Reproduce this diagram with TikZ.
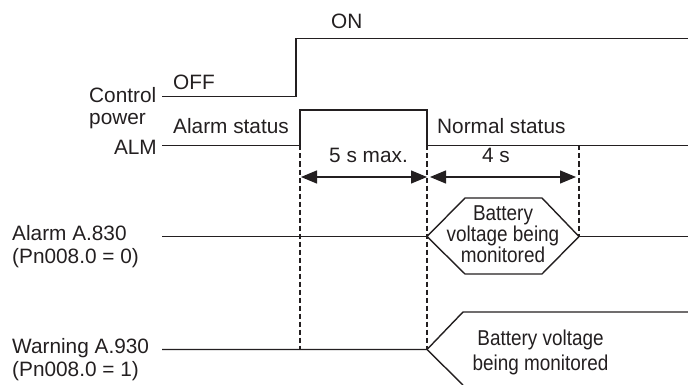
\documentclass[tikz,border=0pt]{standalone}
\usepackage{fontspec}
\setmainfont{Liberation Sans}
\newfontfamily\condfont{Liberation Sans}[FakeStretch=0.88]
\usetikzlibrary{arrows.meta}
\definecolor{ink}{HTML}{231F20}
\tikzset{
  wave/.style={draw=ink, line width=1.4pt, line join=miter},
  guide/.style={draw=ink, line width=1.1pt, dash pattern=on 5pt off 3pt},
  span/.style={draw=ink, line width=1.4pt, {Triangle[length=16pt,width=13pt]}-{Triangle[length=16pt,width=13pt]}},
  lbl/.style={inner sep=0pt, text=ink, font=\fontsize{20.8}{22.6}\selectfont},
  hexlbl/.style={inner sep=0pt, text=ink, align=center, font=\condfont\fontsize{21.5}{21}\selectfont},
  wlbl/.style={inner sep=0pt, text=ink, align=center, font=\condfont\fontsize{21.5}{24.3}\selectfont}
}
\begin{document}
\begin{tikzpicture}[x=1pt,y=-1pt]
\useasboundingbox (0,0) rectangle (688,385);
% coordinates
\coordinate (cp0) at (162,96.7);
\coordinate (cp1) at (296,96.7);
\coordinate (cp2) at (296,38.7);
\coordinate (cp3) at (688,38.7);
\coordinate (al0) at (162,145.5);
\coordinate (al1) at (300,145.5);
\coordinate (al2) at (300,110);
\coordinate (al3) at (427,110);
\coordinate (al4) at (427,145.5);
\coordinate (al5) at (688,145.5);
\coordinate (d1b) at (300,349.5);
\coordinate (d2b) at (427,349.5);
\coordinate (d3t) at (579,145.5);
\coordinate (d3b) at (579,236.5);
\coordinate (a0) at (162,236.5);
\coordinate (hL) at (427,236.5);
\coordinate (hTL) at (465,198);
\coordinate (hTR) at (542,198);
\coordinate (hR) at (579,236.5);
\coordinate (hBR) at (542,274);
\coordinate (hBL) at (465,274);
\coordinate (a1) at (688,236.5);
\coordinate (w0) at (162,349.5);
\coordinate (wP) at (427,349.5);
\coordinate (wU) at (463,312);
\coordinate (wU2) at (688,312);
\coordinate (wD) at (463,385);
\coordinate (s1L) at (301,177);
\coordinate (s1R) at (427,177);
\coordinate (s2L) at (430,177);
\coordinate (s2R) at (576,177);

% waveforms
\draw[wave] (cp0) -- (cp1) -- (cp2) -- (cp3);
\draw[wave] (al0) -- (al1) -- (al2) -- (al3) -- (al4) -- (al5);
\draw[wave] (a0) -- (hL);
\draw[wave] (hL) -- (hTL) -- (hTR) -- (hR) -- (hBR) -- (hBL) -- cycle;
\draw[wave] (hR) -- (a1);
\draw[wave] (w0) -- (wP) -- (wU) -- (wU2);
\draw[wave] (wP) -- (wD);

% guides
\draw[guide] (al1) -- (d1b);
\draw[guide] (al4) -- (d2b);
\draw[guide] (d3t) -- (d3b);

% spans
\draw[span] (s1L) -- (s1R);
\draw[span] (s2L) -- (s2R);

% labels
\node[lbl, anchor=base west] (on) at (331,29) {ON};
\node[lbl, anchor=base west] (off) at (173,89.3) {OFF};
\node[lbl, anchor=north west, align=left] (cpl) at (89,86.8) {Control\\power};
\node[lbl, anchor=base east] (alm) at (157,154) {ALM};
\node[lbl, anchor=base west] (als) at (173,134) {Alarm status};
\node[lbl, anchor=base west] (nrs) at (437,134) {Normal status};
\node[lbl, anchor=base] (t5) at (368.5,163) {5 s max.};
\node[lbl, anchor=base] (t4) at (496,163) {4 s};
\node[hexlbl, anchor=north] (hex) at (503,206) {Battery\\voltage being\\monitored};
\node[lbl, anchor=north west, align=left] (a830) at (12,225.2) {Alarm A.830\\(Pn008.0 = 0)};
\node[lbl, anchor=north west, align=left] (a930) at (12,338.6) {Warning A.930\\(Pn008.0 = 1)};
\node[wlbl, anchor=north] (wtxt) at (540.5,330) {Battery voltage\\being monitored};
\end{tikzpicture}
\end{document}
